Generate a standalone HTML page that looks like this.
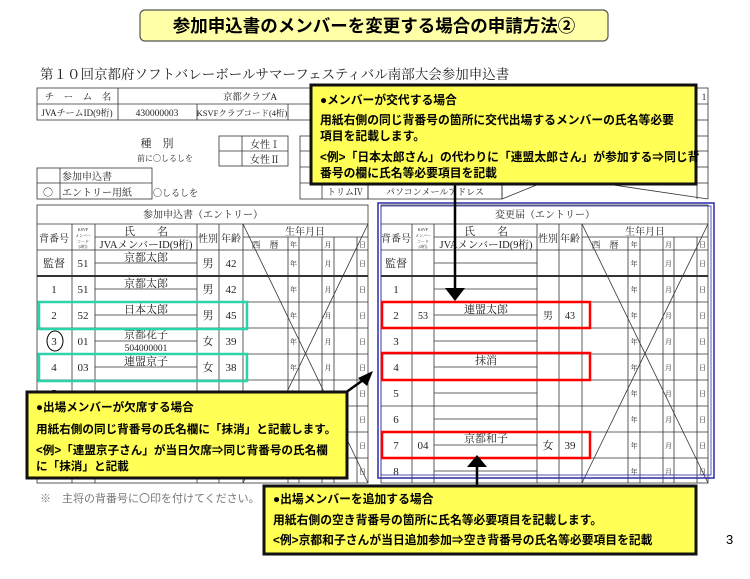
<!DOCTYPE html>
<html><head><meta charset="utf-8">
<style>
html,body{margin:0;padding:0;background:#fff;}
svg{display:block;}
.s{font-family:"Liberation Serif","Noto Serif CJK SC",serif;fill:#222;}
.g{font-family:"Liberation Sans","Noto Sans CJK JP",sans-serif;}
.c{font-family:"Liberation Sans","Noto Sans CJK JP",sans-serif;font-weight:bold;font-size:11.6px;fill:#000;}
.c2{font-size:11.8px;}
</style></head><body>
<svg id="sv" width="750" height="579" viewBox="0 0 750 579" xmlns="http://www.w3.org/2000/svg">
<rect x="140" y="10" width="468" height="31" rx="5" fill="#ffffa8" stroke="#555" stroke-width="1.2"/>
<text x="374" y="32" text-anchor="middle" class="g" font-size="17.5" font-weight="bold" fill="#000">参加申込書のメンバーを変更する場合の申請方法②</text>
<text x="40" y="79" class="s" font-size="13.5" fill="#444">第１０回京都府ソフトバレーボールサマーフェスティバル南部大会参加申込書</text>

<g id="lines" stroke="#333" stroke-width="0.8" fill="none"></g>

<g class="s" font-size="9.5" text-anchor="middle" fill="#555">
<text x="78" y="100">チ　ー　ム　名</text>
<text x="250" y="100">京都クラブA</text>
<text x="77" y="116" font-size="9">JVAチームID(9桁)</text>
<text x="157" y="116">430000003</text>
<text x="242" y="116" font-size="8.5">KSVFクラブコード(4桁)</text>
<text x="157" y="147" font-size="11">種　別</text>
<text x="165" y="161" font-size="8">前に〇しるしを</text>
<text x="265" y="148" font-size="10">女性Ⅰ</text>
<text x="265" y="163" font-size="10">女性Ⅱ</text>
<text x="62" y="180" text-anchor="start" font-size="10">参加申込書</text>
<text x="48" y="196" font-size="10">〇</text>
<text x="62" y="196" text-anchor="start" font-size="10">エントリー用紙</text>
<text x="153" y="196" text-anchor="start" font-size="9">〇しるしを</text>
<text x="345" y="195" font-size="9">トリムⅣ</text>
<text x="435" y="195" font-size="9">パソコンメールアドレス</text>
<text x="704" y="100" font-size="9">1</text>
</g>

<g class="s" font-size="11" text-anchor="middle">
<text x="203" y="218" font-size="10">参加申込書（エントリー）</text>
<text x="54" y="242" font-size="10">背番号</text>
<text x="83" y="231" font-size="4">KSVF</text><text x="83" y="237" font-size="4">メンバー</text><text x="83" y="243" font-size="4">コード</text><text x="83" y="248" font-size="4">(2桁)</text>
<text x="146" y="235">氏　　名</text>
<text x="146" y="248" font-size="10.5">JVAメンバーID(9桁)</text>
<text x="208" y="242" font-size="10">性別</text>
<text x="231" y="242" font-size="10">年齢</text>
<text x="305" y="235" font-size="10">生年月日</text>
<text x="265" y="248" font-size="9">西　暦</text>
<text x="54" y="267">監督</text><text x="83" y="267">51</text><text x="146" y="261">京都太郎</text><text x="208" y="267">男</text><text x="231" y="267">42</text>
<text x="54" y="293">1</text><text x="83" y="293">51</text><text x="146" y="287">京都太郎</text><text x="208" y="293">男</text><text x="231" y="293">42</text>
<text x="54" y="319">2</text><text x="83" y="319">52</text><text x="146" y="313">日本太郎</text><text x="208" y="319">男</text><text x="231" y="319">45</text>
<text x="54" y="345">3</text><text x="83" y="345">01</text><text x="146" y="338">京都花子</text><text x="146" y="351" font-size="9.5">504000001</text><text x="208" y="345">女</text><text x="231" y="345">39</text>
<text x="54" y="371">4</text><text x="83" y="371">03</text><text x="146" y="365">連盟京子</text><text x="208" y="371">女</text><text x="231" y="371">38</text>
<text x="54" y="397">5</text>

<text x="545" y="218" font-size="10">変更届（エントリー）</text>
<text x="396" y="242" font-size="10">背番号</text>
<text x="423" y="231" font-size="4">KSVF</text><text x="423" y="237" font-size="4">メンバー</text><text x="423" y="243" font-size="4">コード</text><text x="423" y="248" font-size="4">(2桁)</text>
<text x="486" y="235">氏　　名</text>
<text x="486" y="248" font-size="10.5">JVAメンバーID(9桁)</text>
<text x="548" y="242" font-size="10">性別</text>
<text x="570" y="242" font-size="10">年齢</text>
<text x="645" y="235" font-size="10">生年月日</text>
<text x="605" y="248" font-size="9">西　暦</text>
<text x="396" y="267">監督</text>
<text x="396" y="293">1</text>
<text x="396" y="319">2</text><text x="423" y="319" font-size="10">53</text><text x="486" y="313">連盟太郎</text><text x="548" y="319" font-size="10">男</text><text x="570" y="319" font-size="10">43</text>
<text x="396" y="345">3</text>
<text x="396" y="371">4</text><text x="486" y="364">抹消</text>
<text x="396" y="397">5</text>
<text x="396" y="423">6</text>
<text x="396" y="449">7</text><text x="423" y="449">04</text><text x="486" y="442">京都和子</text><text x="548" y="449">女</text><text x="570" y="449">39</text>
<text x="396" y="475">8</text>
</g>
<g id="ymd" class="s" font-size="7" text-anchor="middle"></g>

<ellipse cx="55" cy="341" rx="8" ry="10" fill="none" stroke="#000" stroke-width="1"/>
<rect x="39" y="302" width="208" height="27" fill="none" stroke="#2ad4a8" stroke-width="2.5"/>
<rect x="39" y="354" width="208" height="27" fill="none" stroke="#2ad4a8" stroke-width="2.5"/>

<rect x="378" y="203" width="336" height="275" fill="none" stroke="#2a2aa8" stroke-width="1.5"/>
<rect x="381" y="206" width="330" height="269" fill="none" stroke="#2a2aa8" stroke-width="0.8"/>

<rect x="382" y="302" width="208" height="26" fill="none" stroke="#f00" stroke-width="2.5"/>
<rect x="382" y="353" width="208" height="27" fill="none" stroke="#f00" stroke-width="2.5"/>
<rect x="382" y="432" width="208" height="26" fill="none" stroke="#f00" stroke-width="2.5"/>

<text x="40" y="502" class="g" font-size="11" fill="#777">※　主将の背番号に〇印を付けてください。</text>
<text x="726" y="544" class="g" font-size="13" fill="#000">3</text>

<line x1="455" y1="184" x2="455" y2="290" stroke="#000" stroke-width="2.5"/>
<polygon points="445,288 465,288 455,301" fill="#000"/>
<line x1="477" y1="485" x2="477" y2="465" stroke="#000" stroke-width="2.5"/>
<polygon points="467,467 487,467 477,455" fill="#000"/>
<line x1="345" y1="393" x2="366" y2="378" stroke="#000" stroke-width="2.5"/>
<polygon points="373,371 358,378 367,386" fill="#000"/>

<rect x="311" y="85" width="385" height="99" fill="#ffff55" stroke="#111" stroke-width="3"/>
<text x="320" y="104" class="c c2">●メンバーが交代する場合</text>
<text x="320" y="124" class="c c2">用紙右側の同じ背番号の箇所に交代出場するメンバーの氏名等必要</text>
<text x="320" y="140" class="c c2">項目を記載します。</text>
<text x="320" y="161" class="c c2">&lt;例&gt;「日本太郎さん」の代わりに「連盟太郎さん」が参加する⇒同じ背</text>
<text x="320" y="177" class="c c2">番号の欄に氏名等必要項目を記載</text>

<rect x="27" y="392" width="320" height="86" fill="#ffff55" stroke="#111" stroke-width="3"/>
<text x="36" y="411" class="c">●出場メンバーが欠席する場合</text>
<text x="36" y="433" class="c">用紙右側の同じ背番号の氏名欄に「抹消」と記載します。</text>
<text x="36" y="454" class="c">&lt;例&gt;「連盟京子さん」が当日欠席⇒同じ背番号の氏名欄</text>
<text x="36" y="470" class="c">に「抹消」と記載</text>

<rect x="264" y="486" width="432" height="68" fill="#ffff55" stroke="#111" stroke-width="3"/>
<text x="273" y="503" class="c c2">●出場メンバーを追加する場合</text>
<text x="273" y="524" class="c c2">用紙右側の空き背番号の箇所に氏名等必要項目を記載します。</text>
<text x="273" y="544" class="c c2">&lt;例&gt;京都和子さんが当日追加参加⇒空き背番号の氏名等必要項目を記載</text>
</svg>
<script>
(function(){
var g=document.getElementById('lines'),y=document.getElementById('ymd'),h='';
function L(a,b,c,d,w){h+='<line x1="'+a+'" y1="'+b+'" x2="'+c+'" y2="'+d+'"'+(w?' stroke-width="'+w+'"':'')+'/>';}
function R(a,b,c,d){h+='<rect x="'+a+'" y="'+b+'" width="'+(c-a)+'" height="'+(d-b)+'"/>';}
R(37,88,708,120);L(37,104,708,104);L(118,88,118,120);L(197,104,197,120);L(288,104,288,120);
R(219,136,288,166);L(242,136,242,166);L(219,151,288,151);
R(300,136,368,199);L(322,136,322,199);L(300,151,368,151);L(300,167,368,167);L(300,183,368,183);
R(368,183,502,199);L(502,120,502,199);L(697,120,697,199);L(708,120,708,199);
[136,151,167,183].forEach(function(v){L(697,v,708,v);});
L(502,199,697,120);L(600,183,708,199);
R(37,168,152,199);L(60,168,60,199);L(37,183,152,183);
var yt='';
function T(x0,cols,bx){
 var x1=cols[cols.length-1];
 R(x0,205,x1,483);L(x0,224,x1,224);
 var rows=[250,276,302,328,354,380,406,432,458];
 rows.forEach(function(r,i){L(x0,r,x1,r,i==1?2:0);});
 cols.slice(0,5).forEach(function(c){L(c,224,c,483);});
 L(bx[0],237,x1,237);
 bx.slice(1).forEach(function(c){L(c,237,c,483);});
 rows.forEach(function(r){L(cols[1],r+13,cols[2],r+13);});
 L(cols[1],237,cols[2],237);
 L(bx[0],224,x1,483);L(x1,224,bx[0],483);
 var mids=[(bx[1]+bx[2])/2,(bx[3]+bx[4])/2,(bx[5]+x1)/2];
 [237,250,276,302,328,354,380,406,432,458].forEach(function(r){
  ['年','月','日'].forEach(function(t,k){yt+='<text x="'+mids[k]+'" y="'+(r+(r==237?10:16))+'">'+t+'</text>';});
 });
}
T(37,[72,95,197,219,243,368],[243,288,299,322,334,357]);
T(381,[412,434,537,559,582,708],[582,628,640,663,674,697]);
g.innerHTML=h;y.innerHTML=yt;
})();
</script>
</body></html>
